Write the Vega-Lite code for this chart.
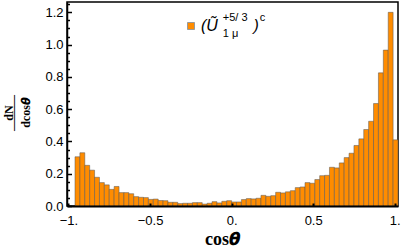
{
  "$schema": "https://vega.github.io/schema/vega-lite/v6.json",
  "width": 331,
  "height": 204,
  "autosize": {"type": "none"},
  "padding": {"left": 67, "top": 2, "right": 4, "bottom": 44},
  "background": "white",
  "view": {"stroke": "black", "strokeWidth": 1.5},
  "data": {"values": [
    {"lo": -0.96, "hi": -0.93, "v": 0.305},
    {"lo": -0.93, "hi": -0.90, "v": 0.330},
    {"lo": -0.90, "hi": -0.87, "v": 0.252},
    {"lo": -0.87, "hi": -0.84, "v": 0.222},
    {"lo": -0.84, "hi": -0.81, "v": 0.178},
    {"lo": -0.81, "hi": -0.78, "v": 0.145},
    {"lo": -0.78, "hi": -0.75, "v": 0.131},
    {"lo": -0.75, "hi": -0.72, "v": 0.103},
    {"lo": -0.72, "hi": -0.69, "v": 0.121},
    {"lo": -0.69, "hi": -0.66, "v": 0.083},
    {"lo": -0.66, "hi": -0.63, "v": 0.083},
    {"lo": -0.63, "hi": -0.60, "v": 0.076},
    {"lo": -0.60, "hi": -0.57, "v": 0.058},
    {"lo": -0.57, "hi": -0.54, "v": 0.054},
    {"lo": -0.54, "hi": -0.51, "v": 0.052},
    {"lo": -0.51, "hi": -0.48, "v": 0.041},
    {"lo": -0.48, "hi": -0.45, "v": 0.043},
    {"lo": -0.45, "hi": -0.42, "v": 0.034},
    {"lo": -0.42, "hi": -0.39, "v": 0.033},
    {"lo": -0.39, "hi": -0.36, "v": 0.023},
    {"lo": -0.36, "hi": -0.33, "v": 0.023},
    {"lo": -0.33, "hi": -0.30, "v": 0.015},
    {"lo": -0.30, "hi": -0.27, "v": 0.017},
    {"lo": -0.27, "hi": -0.24, "v": 0.017},
    {"lo": -0.24, "hi": -0.21, "v": 0.021},
    {"lo": -0.21, "hi": -0.18, "v": 0.021},
    {"lo": -0.18, "hi": -0.15, "v": 0.012},
    {"lo": -0.15, "hi": -0.12, "v": 0.017},
    {"lo": -0.12, "hi": -0.09, "v": 0.027},
    {"lo": -0.09, "hi": -0.06, "v": 0.019},
    {"lo": -0.06, "hi": -0.03, "v": 0.029},
    {"lo": -0.03, "hi": 0.00, "v": 0.033},
    {"lo": 0.00, "hi": 0.03, "v": 0.025},
    {"lo": 0.03, "hi": 0.06, "v": 0.025},
    {"lo": 0.06, "hi": 0.09, "v": 0.040},
    {"lo": 0.09, "hi": 0.12, "v": 0.046},
    {"lo": 0.12, "hi": 0.15, "v": 0.044},
    {"lo": 0.15, "hi": 0.18, "v": 0.048},
    {"lo": 0.18, "hi": 0.21, "v": 0.066},
    {"lo": 0.21, "hi": 0.24, "v": 0.060},
    {"lo": 0.24, "hi": 0.27, "v": 0.064},
    {"lo": 0.27, "hi": 0.30, "v": 0.085},
    {"lo": 0.30, "hi": 0.33, "v": 0.081},
    {"lo": 0.33, "hi": 0.36, "v": 0.088},
    {"lo": 0.36, "hi": 0.39, "v": 0.095},
    {"lo": 0.39, "hi": 0.42, "v": 0.114},
    {"lo": 0.42, "hi": 0.45, "v": 0.118},
    {"lo": 0.45, "hi": 0.48, "v": 0.145},
    {"lo": 0.48, "hi": 0.51, "v": 0.141},
    {"lo": 0.51, "hi": 0.54, "v": 0.164},
    {"lo": 0.54, "hi": 0.57, "v": 0.188},
    {"lo": 0.57, "hi": 0.60, "v": 0.190},
    {"lo": 0.60, "hi": 0.63, "v": 0.240},
    {"lo": 0.63, "hi": 0.66, "v": 0.236},
    {"lo": 0.66, "hi": 0.69, "v": 0.267},
    {"lo": 0.69, "hi": 0.72, "v": 0.300},
    {"lo": 0.72, "hi": 0.75, "v": 0.327},
    {"lo": 0.75, "hi": 0.78, "v": 0.375},
    {"lo": 0.78, "hi": 0.81, "v": 0.416},
    {"lo": 0.81, "hi": 0.84, "v": 0.474},
    {"lo": 0.84, "hi": 0.87, "v": 0.525},
    {"lo": 0.87, "hi": 0.90, "v": 0.635},
    {"lo": 0.90, "hi": 0.93, "v": 0.825},
    {"lo": 0.93, "hi": 0.96, "v": 0.966},
    {"lo": 0.96, "hi": 0.99, "v": 1.200},
    {"lo": 0.99, "hi": 1.02, "v": 0.410}
  ]},
  "mark": {"type": "bar", "stroke": "#555555", "strokeOpacity": 0.5, "strokeWidth": 1},
  "encoding": {
    "x": {
      "field": "lo", "type": "quantitative",
      "scale": {"domain": [-1.009, 1.02], "nice": false, "zero": false},
      "axis": {
        "values": [-1, -0.5, 0, 0.5, 1],
        "labelExpr": "datum.value == -1 ? '−1.' : datum.value == -0.5 ? '−0.5' : datum.value == 0 ? '0.' : datum.value == 0.5 ? '0.5' : '1.'",
        "labelFont": "Liberation Sans", "labelFontSize": 13, "labelColor": "black",
        "labelFlush": false, "labelOverlap": false, "labelPadding": 11,
        "tickColor": "black", "tickSize": -3, "tickWidth": 2,
        "domainColor": "black", "domainWidth": 2, "grid": false, "zindex": 1,
        "title": "cos𝜽", "titleFont": "Liberation Serif", "titleFontSize": 18, "titleFontWeight": "bold", "titleColor": "black",
        "titleX": 155, "titleY": 38, "titleBaseline": "alphabetic", "titleAlign": "center"
      }
    },
    "x2": {"field": "hi"},
    "y": {
      "field": "v", "type": "quantitative",
      "scale": {"domain": [0, 1.264], "nice": false},
      "axis": {
        "values": [0, 0.05, 0.1, 0.15, 0.2, 0.25, 0.3, 0.35, 0.4, 0.45, 0.5, 0.55, 0.6, 0.65, 0.7, 0.75, 0.8, 0.85, 0.9, 0.95, 1, 1.05, 1.1, 1.15, 1.2, 1.25],
        "labelExpr": "abs(datum.value * 5 - round(datum.value * 5)) < 0.000001 ? format(datum.value, '.1f') : ''",
        "labelFont": "Liberation Sans", "labelFontSize": 13, "labelColor": "black",
        "labelFlush": false, "labelOverlap": false, "labelPadding": 8.5,
        "tickColor": "black", "tickWidth": 1.5,
        "tickSize": {"condition": {"test": "abs(datum.value * 5 - round(datum.value * 5)) < 0.000001", "value": -4.5}, "value": -2.5},
        "domainColor": "black", "domainWidth": 1.5, "grid": false, "zindex": 1,
        "title": ["dN", "———", "\u2060", "\u2060", "dcos𝜽"],
        "titleFont": "Liberation Serif", "titleFontSize": 12, "titleFontWeight": "bold", "titleColor": "black",
        "titleLineHeight": 4.25, "titleAngle": 270,
        "titleX": -55, "titleY": 110.5, "titleBaseline": "alphabetic", "titleAlign": "center"
      }
    },
    "y2": {"datum": 0},
    "color": {
      "datum": "(Ũ\u00a0\u00a0\u00a0\u00a0\u00a0\u00a0\u00a0\u00a0)",
      "scale": {"range": ["#ff8c00"]},
      "legend": {
        "orient": "none", "legendX": 116, "legendY": 10, "padding": 0,
        "title": ["\u2060\u00a0\u00a0\u00a0\u00a0\u00a0\u00a0\u00a0\u00a0\u00a0\u00a0\u00a0\u00a0\u00a0+5/ 3\u00a0\u00a0\u00a0\u00a0c", "\u2060\u00a0\u00a0\u00a0\u00a0\u00a0\u00a0\u00a0\u00a0\u00a0\u00a0\u00a0\u00a0\u00a01 μ"],
        "titleFont": "Liberation Sans", "titleFontSize": 11, "titleFontWeight": "normal", "titleColor": "black",
        "titleLineHeight": 16, "titlePadding": -21,
        "labelFont": "Liberation Sans", "labelFontSize": 16, "labelFontStyle": "italic", "labelColor": "black",
        "labelOffset": 2,
        "symbolType": "square", "symbolSize": 49, "symbolStrokeColor": "#999999", "symbolStrokeWidth": 1, "symbolOpacity": 1
      }
    }
  }
}
